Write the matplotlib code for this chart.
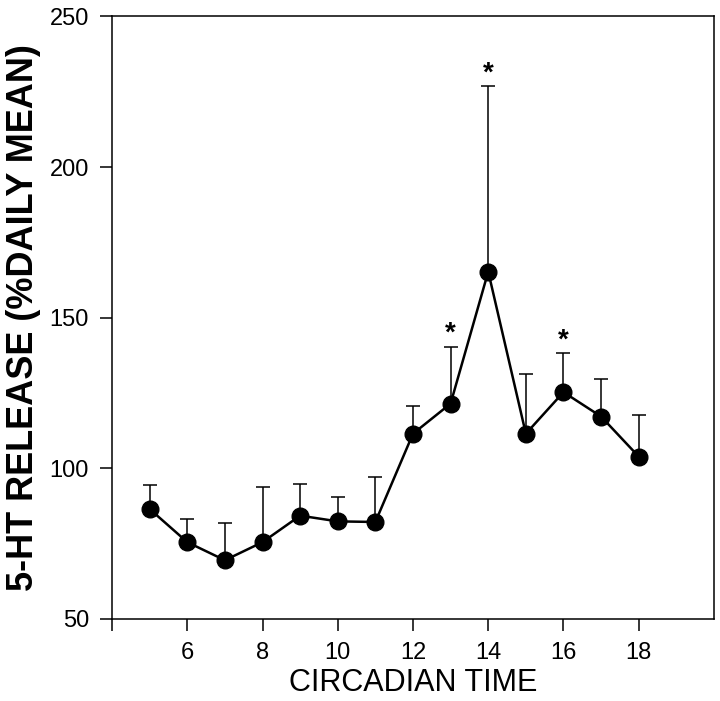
import matplotlib
matplotlib.use("Agg")
import matplotlib.pyplot as plt

plt.rcParams['font.family'] = ['Liberation Sans', 'DejaVu Sans']

ct = [5, 6, 7, 8, 9, 10, 11, 12, 13, 14, 15, 16, 17, 18]
release = [86.5, 75.5, 69.5, 75.5, 84.3, 82.4, 82.2, 111.5, 121.5, 165.3, 111.5, 125.3, 117.2, 103.9]
sem = [8.1, 7.7, 12.4, 18.4, 10.6, 8.2, 15.0, 9.1, 18.9, 61.6, 19.9, 12.9, 12.5, 13.8]
signif = [13, 14, 16]

fig = plt.figure(figsize=(7.2, 7.01), dpi=100)
ax = fig.add_axes([0.1556, 0.117, 0.836, 0.8595])

# upper error bars only
ax.errorbar(ct, release, yerr=[[0] * len(sem), sem], fmt='none',
            ecolor='black', elinewidth=1.1, capsize=5, capthick=1.1)
ax.plot(ct, release, '-', color='black', lw=1.8)
ax.plot(ct, release, 'o', color='black', ms=12)

for x in signif:
    i = ct.index(x)
    ax.annotate('*', xy=(x, release[i] + sem[i]), xytext=(0, 4),
                textcoords='offset points', ha='center', va='baseline',
                fontsize=20, fontweight='bold')

ax.set_xlim(4, 20)
ax.set_ylim(50, 250)
ax.set_xticks([4, 6, 8, 10, 12, 14, 16, 18])
ax.set_xticklabels(['', '6', '8', '10', '12', '14', '16', '18'])
ax.set_yticks([50, 100, 150, 200, 250])

ax.tick_params(direction='out', length=8.6, width=1.1, labelsize=17, pad=8)
ax.tick_params(top=False, right=False)
for s in ax.spines.values():
    s.set_linewidth(1.1)

ax.set_xlabel('CIRCADIAN TIME', fontsize=22, labelpad=3)
ax.set_ylabel('5-HT RELEASE (%DAILY MEAN)', fontsize=26, fontweight='bold', labelpad=6)

fig.savefig('out.png', dpi=100)
